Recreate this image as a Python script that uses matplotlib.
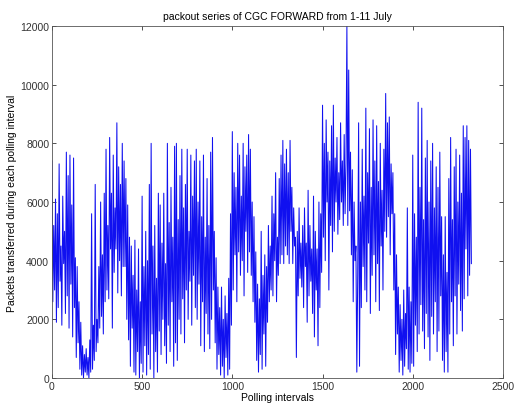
import numpy as np
import matplotlib
matplotlib.use("Agg")
import matplotlib.pyplot as plt

plt.rcParams['font.family'] = ['Liberation Sans', 'DejaVu Sans']

# Packets per polling interval, sampled every 5 intervals
step = 5
packets = [
    7400, 2600, 5200, 3000, 6100, 1900, 5600, 2400, 7300, 3300, 4500, 1800, 6200, 3900, 5000, 2200, 7700, 2800, 6900, 1700,
    7600, 3200, 5900, 1400, 7500, 2400, 4100, 700, 3800, 1200, 2600, 300, 1900, 100, 1100, 0, 800, 200, 1000, 100,
    700, 0, 1300, 200, 5600, 300, 1800, 600, 6600, 900, 2000, 1200, 3800, 1700, 6000, 2100, 4200, 1500, 6300, 2600,
    7800, 3000, 5200, 2700, 8200, 4400, 6300, 1700, 7600, 3600, 5800, 4400, 8700, 2900, 7200, 4000, 6600, 2800, 8000, 3800,
    7400, 3800, 6800, 2000, 5900, 1300, 4800, 400, 4500, 1700, 3500, 200, 4700, 100, 3000, 900, 4400, 0, 2600, 500,
    6200, 200, 3800, 1100, 5000, 100, 4000, 800, 6600, 300, 8000, 1500, 4500, 0, 5200, 900, 3400, 200, 6300, 1600,
    5900, 800, 4600, 2000, 6300, 1100, 3900, 500, 8000, 1800, 5300, 900, 6500, 2600, 4800, 400, 7900, 1200, 8000, 600,
    5400, 2000, 6900, 1500, 7800, 2700, 5800, 1200, 6600, 3000, 7800, 2000, 5000, 3300, 7600, 1800, 6200, 3500, 7400, 2400,
    7800, 2000, 6000, 3200, 7400, 1100, 5500, 2600, 7600, 900, 4800, 2200, 6800, 1500, 5200, 1000, 7700, 2000, 8200, 3000,
    5000, 1200, 4100, 300, 3100, 800, 2400, 100, 3100, 400, 2000, 0, 2800, 700, 2200, 100, 3400, 300, 5600, 1800,
    8400, 3000, 7000, 4200, 6500, 2600, 8000, 4300, 7600, 3500, 6200, 4000, 8000, 2800, 7200, 5000, 7600, 3600, 8300, 4300,
    7800, 3500, 6000, 2600, 5500, 1900, 4300, 600, 3200, 200, 2700, 800, 5000, 300, 3500, 1500, 4200, 400, 3800, 1900,
    5200, 2600, 4500, 3000, 6200, 2800, 5600, 4000, 7000, 2600, 4800, 3500, 6800, 3900, 7600, 4200, 8100, 3900, 7300, 4500,
    7800, 4200, 7000, 3900, 8100, 5000, 6500, 3900, 5800, 4500, 4800, 700, 5000, 2800, 5800, 3400, 4600, 3100, 5200, 2400,
    5800, 3800, 4600, 1900, 6400, 2800, 5200, 3300, 4400, 2200, 6200, 1400, 5000, 3000, 4400, 1100, 6000, 2400, 5600, 3600,
    9300, 4800, 8000, 4000, 8800, 6000, 7700, 3000, 7400, 5200, 8600, 4300, 9300, 5000, 7500, 6000, 8200, 4900, 7000, 5400,
    8700, 6000, 7400, 5200, 8300, 5600, 7300, 12000, 5200, 10500, 5700, 7700, 4200, 7100, 2600, 6000, 4000, 4500, 200, 3500,
    8700, 400, 6000, 2400, 7800, 3800, 6200, 3000, 9200, 2600, 7000, 4600, 8500, 2200, 6500, 3500, 8800, 4200, 7400, 2600,
    8600, 3900, 6700, 2300, 8000, 4500, 6400, 3000, 7800, 5000, 9700, 4800, 8700, 5500, 8900, 4200, 7300, 5600, 7000, 3000,
    5600, 800, 4200, 1500, 3100, 200, 2500, 600, 2000, 100, 3000, 400, 2200, 1000, 5800, 300, 3100, 200, 2600, 500,
    7600, 400, 5600, 1800, 4800, 900, 9400, 1500, 6500, 2500, 9200, 1600, 5400, 1000, 7500, 2200, 8100, 1400, 6000, 600,
    7400, 2100, 8000, 1500, 5800, 2600, 7200, 900, 6500, 1600, 7700, 2800, 5500, 600, 4200, 200, 5500, 900, 3600, 200,
    6800, 1500, 8200, 2600, 5400, 1100, 7200, 2800, 7800, 1500, 6000, 3200, 7600, 2300, 6300, 1600, 8600, 2700, 8200, 4400,
    8600, 2800, 8100, 3500, 7800, 3900,
]
intervals = np.arange(len(packets)) * step

x_ticks = [0, 500, 1000, 1500, 2000, 2500]
y_ticks = [0, 2000, 4000, 6000, 8000, 10000, 12000]

fig = plt.figure(figsize=(5.14, 4.10), dpi=100)
ax = fig.add_axes([0.101, 0.0756, 0.8775, 0.8585])
ax.plot(intervals, packets, color='#1010f0', linewidth=0.75)

ax.set_xlim(0, 2500)
ax.set_ylim(0, 12000)
ax.set_xticks(x_ticks)
ax.set_yticks(y_ticks)
ax.tick_params(direction='in', length=3, width=0.6, labelsize=7.5,
               top=True, right=True, colors='#333333', pad=2)
for s in ax.spines.values():
    s.set_linewidth(0.6)
    s.set_color('#555555')

ax.set_title('packout series of CGC FORWARD from 1-11 July', fontsize=7.5, pad=5)
ax.set_xlabel('Polling intervals', fontsize=7.5, labelpad=1)
ax.set_ylabel('Packets transferred during each polling interval', fontsize=7.5, labelpad=2)

fig.savefig('out.png', dpi=100)
